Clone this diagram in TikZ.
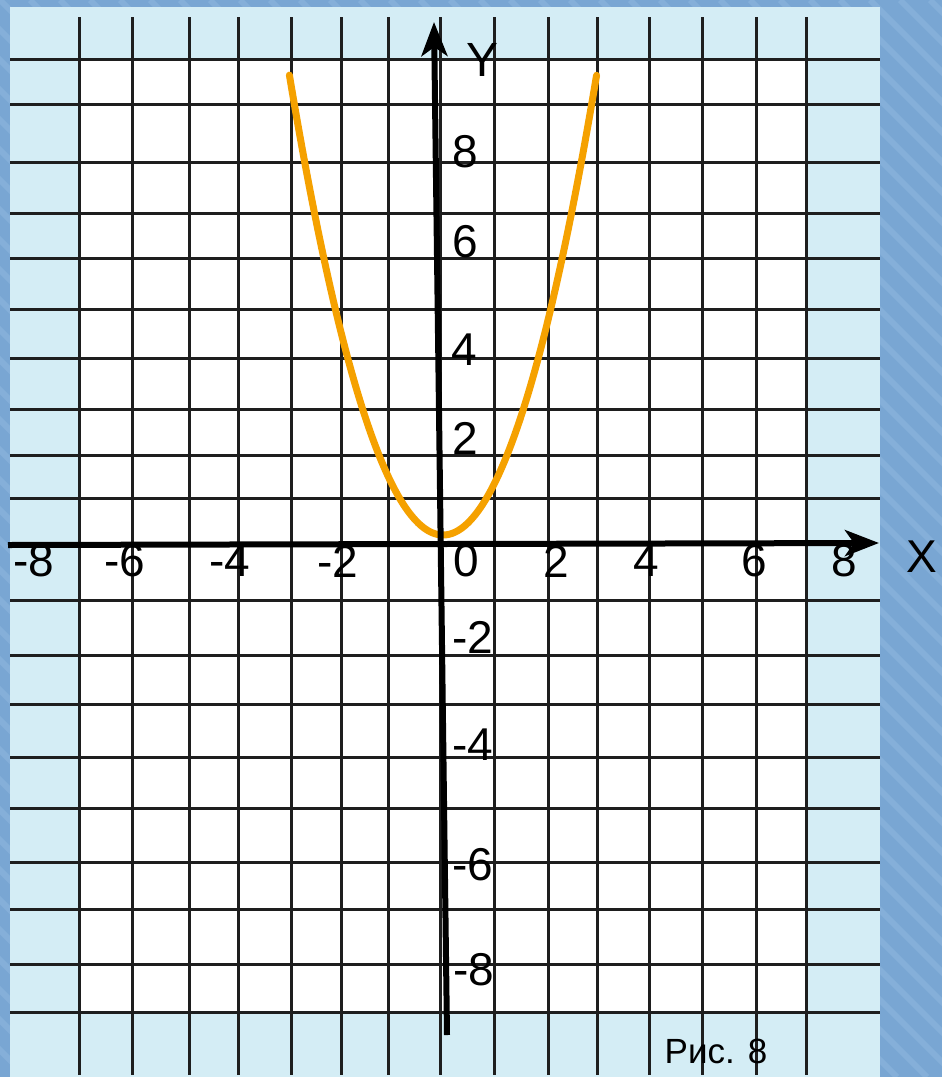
\documentclass[tikz,border=0pt]{standalone}
\usepackage{fontspec}
\setmainfont{Liberation Sans}
\usetikzlibrary{arrows.meta}
\definecolor{outerblue}{HTML}{79A6D3}
\definecolor{outerlight}{HTML}{8DB6DE}
\definecolor{paperblue}{HTML}{D4EDF5}
\definecolor{curvec}{HTML}{F5A100}
\definecolor{gridc}{HTML}{1E1E1E}
\begin{document}
\begin{tikzpicture}[x=1pt,y=-1pt,
  gridline/.style={gridc,line width=3pt},
  axisline/.style={black,line width=6pt,-{Stealth[length=34pt,width=26pt,inset=9pt]}},
  lab/.style={font=\fontsize{46}{50}\selectfont,inner sep=0pt,anchor=center},
  curveline/.style={curvec,line width=7pt,line cap=round},
  texture/.style={outerlight,line width=6pt,opacity=0.6}
]
\useasboundingbox (0,0) rectangle (942,1077);
% backgrounds
\fill[outerblue] (0,0) rectangle (942,1077);
\begin{scope}
  \clip (0,0) rectangle (942,1077);
  \foreach \k in {-1200,-1170,...,1100}
    \draw[texture] (\k,0) -- ++(1077,1077);
\end{scope}
\fill[paperblue] (10,7) rectangle (880,1077);
\fill[white] (80,60) rectangle (806,1012);
% grid
\foreach \x in {79,132,189,238,291,341,388,440,494,548,597,649,702,756,806}
  \draw[gridline] (\x,17) -- (\x,1075);
\foreach \y in {59,104,162,213,258,309,358,409,455,498,600,655,704,757,808,862,909,964,1012}
  \draw[gridline] (10,\y) -- (880,\y);
% parabola
\draw[curveline] plot[domain=-3:3,samples=120,smooth] ({443+51.2*\x},{535-51.1*\x*\x});
% axes
\coordinate (ybot) at (447,1035);
\coordinate (ytop) at (434,22);
\coordinate (xleft) at (8,545);
\coordinate (xright) at (879,543);
\draw[axisline] (xleft) -- (xright);
\draw[axisline] (ybot) -- (ytop);
% axis names
\node[font=\fontsize{48}{52}\selectfont,inner sep=0pt] (ylabel) at (483,60) {Y};
\node[lab] (xlabel) at (922,557) {X};
% x tick labels
\node[lab] (xm8) at (34,561) {-8};
\node[lab] (xm6) at (125,561) {-6};
\node[lab] (xm4) at (230,561) {-4};
\node[lab] (xm2) at (338,561) {-2};
\node[lab] (x0) at (466,561) {0};
\node[lab] (x2) at (556,561) {2};
\node[lab] (x4) at (646,561) {4};
\node[lab] (x6) at (754,561) {6};
\node[lab] (x8) at (844,561) {8};
% y tick labels
\node[lab] (y8) at (465,152) {8};
\node[lab] (y6) at (465,242) {6};
\node[lab] (y4) at (464,350) {4};
\node[lab] (y2) at (465,438) {2};
\node[lab] (ym2) at (473,637) {-2};
\node[lab] (ym4) at (473,745) {-4};
\node[lab] (ym6) at (473,865) {-6};
\node[lab] (ym8) at (474,970) {-8};
% caption
\node[font=\fontsize{35}{38}\selectfont,inner sep=0pt] (caption) at (716,1051) {Рис. 8};
\end{tikzpicture}
\end{document}
